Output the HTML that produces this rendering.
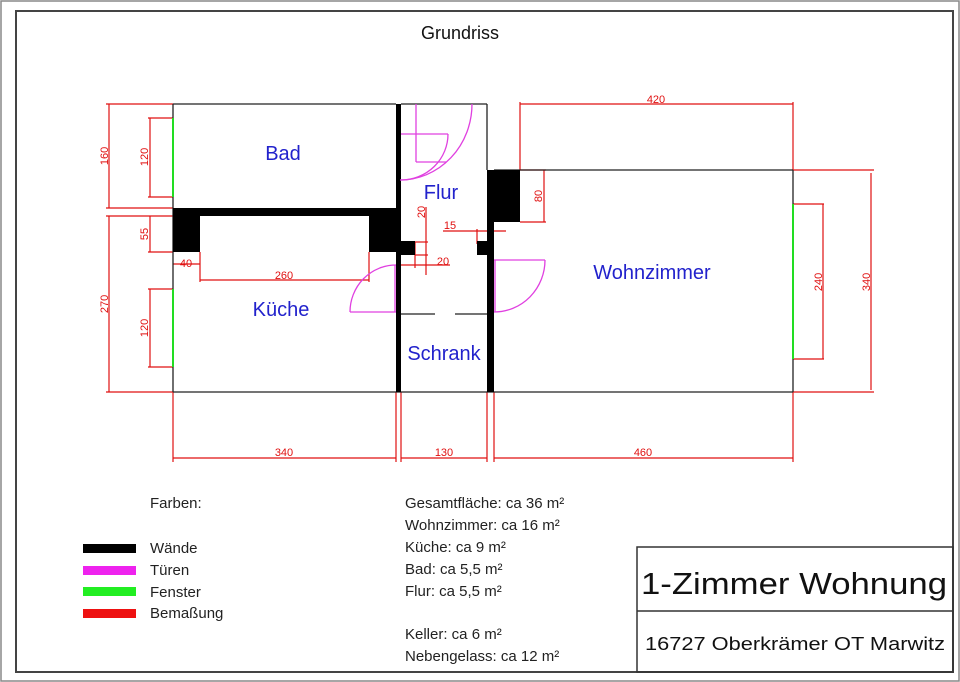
<!DOCTYPE html>
<html><head><meta charset="utf-8"><style>
html,body{margin:0;padding:0;background:#fff;}
svg{display:block;}
text{font-family:"Liberation Sans",Arial,sans-serif;}
</style></head><body>
<svg width="960" height="682" viewBox="0 0 960 682" xmlns="http://www.w3.org/2000/svg">
<rect x="0" y="0" width="960" height="682" fill="#fff"/>
<rect x="1" y="1" width="958" height="680" fill="none" stroke="#888" stroke-width="1.5"/>
<rect x="16" y="11" width="937" height="661" fill="none" stroke="#444" stroke-width="2"/>
<text x="460" y="39" font-size="18" text-anchor="middle" fill="#111">Grundriss</text>

<g stroke="#e01010" stroke-width="1.2" fill="none">
<line x1="106" y1="104" x2="173" y2="104"/>
<line x1="106" y1="208" x2="173" y2="208"/>
<line x1="106" y1="216" x2="173" y2="216"/>
<line x1="106" y1="392" x2="173" y2="392"/>
<line x1="109" y1="104" x2="109" y2="208"/>
<line x1="109" y1="216" x2="109" y2="392"/>
<line x1="148" y1="118" x2="173" y2="118"/>
<line x1="148" y1="197" x2="173" y2="197"/>
<line x1="150" y1="118" x2="150" y2="197"/>
<line x1="148" y1="289" x2="173" y2="289"/>
<line x1="148" y1="367" x2="173" y2="367"/>
<line x1="150" y1="289" x2="150" y2="367"/>
<line x1="150" y1="216" x2="150" y2="252"/>
<line x1="148" y1="252" x2="173" y2="252"/>
<line x1="173" y1="264" x2="200" y2="264"/>
<line x1="200" y1="252" x2="200" y2="282"/>
<line x1="200" y1="280" x2="369" y2="280"/>
<line x1="369" y1="252" x2="369" y2="282"/>
<line x1="173" y1="392" x2="173" y2="462"/>
<line x1="396" y1="392" x2="396" y2="462"/>
<line x1="401" y1="392" x2="401" y2="462"/>
<line x1="487" y1="392" x2="487" y2="462"/>
<line x1="494" y1="392" x2="494" y2="462"/>
<line x1="793" y1="392" x2="793" y2="462"/>
<line x1="173" y1="458" x2="396" y2="458"/>
<line x1="401" y1="458" x2="487" y2="458"/>
<line x1="494" y1="458" x2="793" y2="458"/>
<line x1="520" y1="104" x2="793" y2="104"/>
<line x1="520" y1="102" x2="520" y2="170"/>
<line x1="793" y1="102" x2="793" y2="170"/>
<line x1="520" y1="170" x2="546" y2="170"/>
<line x1="520" y1="222" x2="546" y2="222"/>
<line x1="544" y1="170" x2="544" y2="222"/>
<line x1="793" y1="204" x2="824" y2="204"/>
<line x1="793" y1="359" x2="824" y2="359"/>
<line x1="823" y1="204" x2="823" y2="359"/>
<line x1="793" y1="170" x2="874" y2="170"/>
<line x1="793" y1="392" x2="874" y2="392"/>
<line x1="871" y1="173" x2="871" y2="390"/>
<line x1="415" y1="242" x2="428" y2="242"/>
<line x1="415" y1="255" x2="428" y2="255"/>
<line x1="426" y1="207" x2="426" y2="275"/>
<line x1="401" y1="265" x2="450" y2="265"/>
<line x1="415" y1="242" x2="415" y2="268"/>
<line x1="443" y1="231" x2="506" y2="231"/>
<line x1="477" y1="229" x2="477" y2="244"/>
</g>
<g fill="#e01010" font-size="11">
<text x="0" y="0" transform="translate(108,156) rotate(-90)" text-anchor="middle">160</text>
<text x="0" y="0" transform="translate(148,157) rotate(-90)" text-anchor="middle">120</text>
<text x="0" y="0" transform="translate(108,304) rotate(-90)" text-anchor="middle">270</text>
<text x="0" y="0" transform="translate(148,328) rotate(-90)" text-anchor="middle">120</text>
<text x="0" y="0" transform="translate(148,234) rotate(-90)" text-anchor="middle">55</text>
<text x="186" y="267" text-anchor="middle">40</text>
<text x="284" y="279" text-anchor="middle">260</text>
<text x="284" y="456" text-anchor="middle">340</text>
<text x="444" y="456" text-anchor="middle">130</text>
<text x="643" y="456" text-anchor="middle">460</text>
<text x="656" y="103" text-anchor="middle">420</text>
<text x="0" y="0" transform="translate(542,196) rotate(-90)" text-anchor="middle">80</text>
<text x="0" y="0" transform="translate(822,282) rotate(-90)" text-anchor="middle">240</text>
<text x="0" y="0" transform="translate(870,282) rotate(-90)" text-anchor="middle">340</text>
<text x="0" y="0" transform="translate(425,212) rotate(-90)" text-anchor="middle">20</text>
<text x="443" y="265" text-anchor="middle">20</text>
<text x="450" y="229" text-anchor="middle">15</text>
</g>

<g stroke="#222" stroke-width="1.3" fill="none">
<line x1="173" y1="104" x2="396" y2="104"/>
<line x1="401" y1="104" x2="487" y2="104"/>
<line x1="487" y1="104" x2="487" y2="170"/>
<line x1="173" y1="104" x2="173" y2="392"/>
<line x1="173" y1="392" x2="793" y2="392"/>
<line x1="494" y1="170" x2="793" y2="170"/>
<line x1="793" y1="170" x2="793" y2="392"/>
<line x1="401" y1="314" x2="435" y2="314"/>
<line x1="455" y1="314" x2="487" y2="314"/>
</g>
<g fill="#000">
<rect x="396" y="104" width="5" height="288"/>
<rect x="173" y="208" width="228" height="8"/>
<rect x="173" y="208" width="27" height="44"/>
<rect x="369" y="208" width="32" height="44"/>
<rect x="397" y="241" width="18" height="14"/>
<rect x="487" y="170" width="7" height="222"/>
<rect x="487" y="170" width="33" height="52"/>
<rect x="477" y="241" width="17" height="14"/>
</g>
<g stroke="#22dd22" stroke-width="2">
<line x1="173" y1="118" x2="173" y2="197"/>
<line x1="173" y1="289" x2="173" y2="367"/>
<line x1="793" y1="204" x2="793" y2="359"/>
</g>
<g stroke="#e040e0" stroke-width="1.3" fill="none">
<line x1="416" y1="104" x2="416" y2="162"/>
<line x1="416" y1="162" x2="446" y2="162"/>
<path d="M472 104 A72 76 0 0 1 400 180"/>
<line x1="401" y1="134" x2="448" y2="134"/>
<path d="M448 134 A47 46 0 0 1 401 180"/>
<line x1="350" y1="312" x2="396" y2="312"/>
<path d="M350 312 A46 47 0 0 1 396 265"/>
<line x1="395" y1="265" x2="395" y2="312"/>
<line x1="494" y1="260" x2="545" y2="260"/>
<path d="M545 260 A51 52 0 0 1 494 312"/>
<line x1="495" y1="260" x2="495" y2="312"/>
</g>
<g fill="#2222cc" font-size="20">
<text x="283" y="160" text-anchor="middle">Bad</text>
<text x="441" y="199" text-anchor="middle">Flur</text>
<text x="281" y="316" text-anchor="middle">Küche</text>
<text x="444" y="360" text-anchor="middle">Schrank</text>
<text x="652" y="279" text-anchor="middle">Wohnzimmer</text>
</g>
<g font-size="15" fill="#222">
<text x="150" y="508">Farben:</text>
<text x="150" y="553">Wände</text>
<text x="150" y="575">Türen</text>
<text x="150" y="597">Fenster</text>
<text x="150" y="618">Bemaßung</text>
<text x="405" y="508">Gesamtfläche: ca 36 m²</text>
<text x="405" y="530">Wohnzimmer: ca 16 m²</text>
<text x="405" y="552">Küche: ca 9 m²</text>
<text x="405" y="574">Bad: ca 5,5 m²</text>
<text x="405" y="596">Flur: ca 5,5 m²</text>
<text x="405" y="639">Keller: ca 6 m²</text>
<text x="405" y="661">Nebengelass: ca 12 m²</text>
</g>
<rect x="83" y="544" width="53" height="9" fill="#000"/>
<rect x="83" y="566" width="53" height="9" fill="#ee22ee"/>
<rect x="83" y="587" width="53" height="9" fill="#22ee22"/>
<rect x="83" y="609" width="53" height="9" fill="#ee1111"/>
<rect x="637" y="547" width="316" height="125" fill="none" stroke="#333" stroke-width="1.5"/>
<line x1="637" y1="611" x2="953" y2="611" stroke="#333" stroke-width="1.5"/>
<text x="794" y="594" font-size="31" text-anchor="middle" fill="#111" textLength="306" lengthAdjust="spacingAndGlyphs">1-Zimmer Wohnung</text>
<text x="795" y="650" font-size="18" text-anchor="middle" fill="#111" textLength="300" lengthAdjust="spacingAndGlyphs">16727 Oberkrämer OT Marwitz</text>
</svg>
</body></html>
